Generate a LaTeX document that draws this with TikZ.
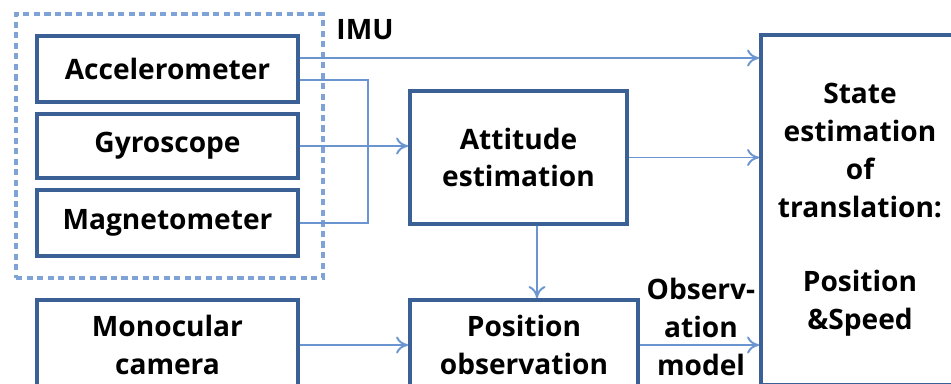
\documentclass[tikz,border=0pt]{standalone}
\usepackage{fontspec}
\setmainfont{Open Sans}
\usetikzlibrary{arrows.meta}
\definecolor{boxblue}{RGB}{58,96,150}
\definecolor{lineblue}{RGB}{106,149,208}
\definecolor{dashblue}{RGB}{127,163,214}
\tikzset{
  block/.style={draw=boxblue,line width=2.2pt,inner sep=0pt,align=center,
    font=\fontsize{16}{21.5}\selectfont\bfseries},
  tag/.style={align=center,font=\fontsize{16}{21.5}\selectfont\bfseries},
  flow/.style={draw=lineblue,line width=1.1pt,-{To[length=2.4mm,width=3.4mm]}},
  wire/.style={draw=lineblue,line width=1.1pt}
}
\begin{document}
\begin{tikzpicture}[x=0.02cm,y=-0.02cm]
  \path[use as bounding box,clip] (0,0) rectangle (951,383);
  % IMU group
  \node[draw=dashblue,line width=1.8pt,dash pattern=on 3.5pt off 2.5pt,minimum width=6.14cm,minimum height=5.28cm] (imu) at (169.5,146) {};
  \node[tag] (imulabel) at (365,30) {IMU};
  \node[block,minimum width=5.22cm,minimum height=1.32cm] (acc) at (167.5,69) {Accelerometer};
  \node[block,minimum width=5.22cm,minimum height=1.28cm] (gyro) at (167.5,146) {Gyroscope};
  \node[block,minimum width=5.22cm,minimum height=1.32cm] (mag) at (167.5,223) {Magnetometer};
  \node[block,minimum width=5.22cm,minimum height=1.8cm] (cam) at (167.5,345) {Monocular\\camera};
  % estimation blocks
  \node[block,minimum width=4.34cm,minimum height=2.66cm] (att) at (518.5,157.5) {Attitude\\estimation};
  \node[block,minimum width=4.56cm,minimum height=1.8cm] (pos) at (524,345) {Position\\observation};
  \node[block,minimum width=3.96cm,minimum height=7.0cm] (state) at (860,210) {State\\estimation\\of\\translation:\\[21pt]Position\\\&Speed};
  \node[tag] (obs) at (701,327) {Observ-\\ation\\model};
  % connectors
  \coordinate (a1) at ([yshift=0.22cm]acc.east);
  \coordinate (a2) at ([yshift=-0.22cm]acc.east);
  \coordinate (bus) at (368,0);
  \draw[flow] (a1) -- (a1 -| state.west);
  \draw[wire] (a2) -| (bus |- mag.east) -- (mag.east);
  \draw[flow] (gyro.east) -- (gyro.east -| att.west);
  \draw[flow] (att.east) -- (att.east -| state.west);
  \draw[flow] ([xshift=0.37cm]att.south) -- ([xshift=0.26cm]pos.north);
  \draw[flow] (cam.east) -- (cam.east -| pos.west);
  \draw[flow] (pos.east) -- (pos.east -| state.west);
\end{tikzpicture}
\end{document}
